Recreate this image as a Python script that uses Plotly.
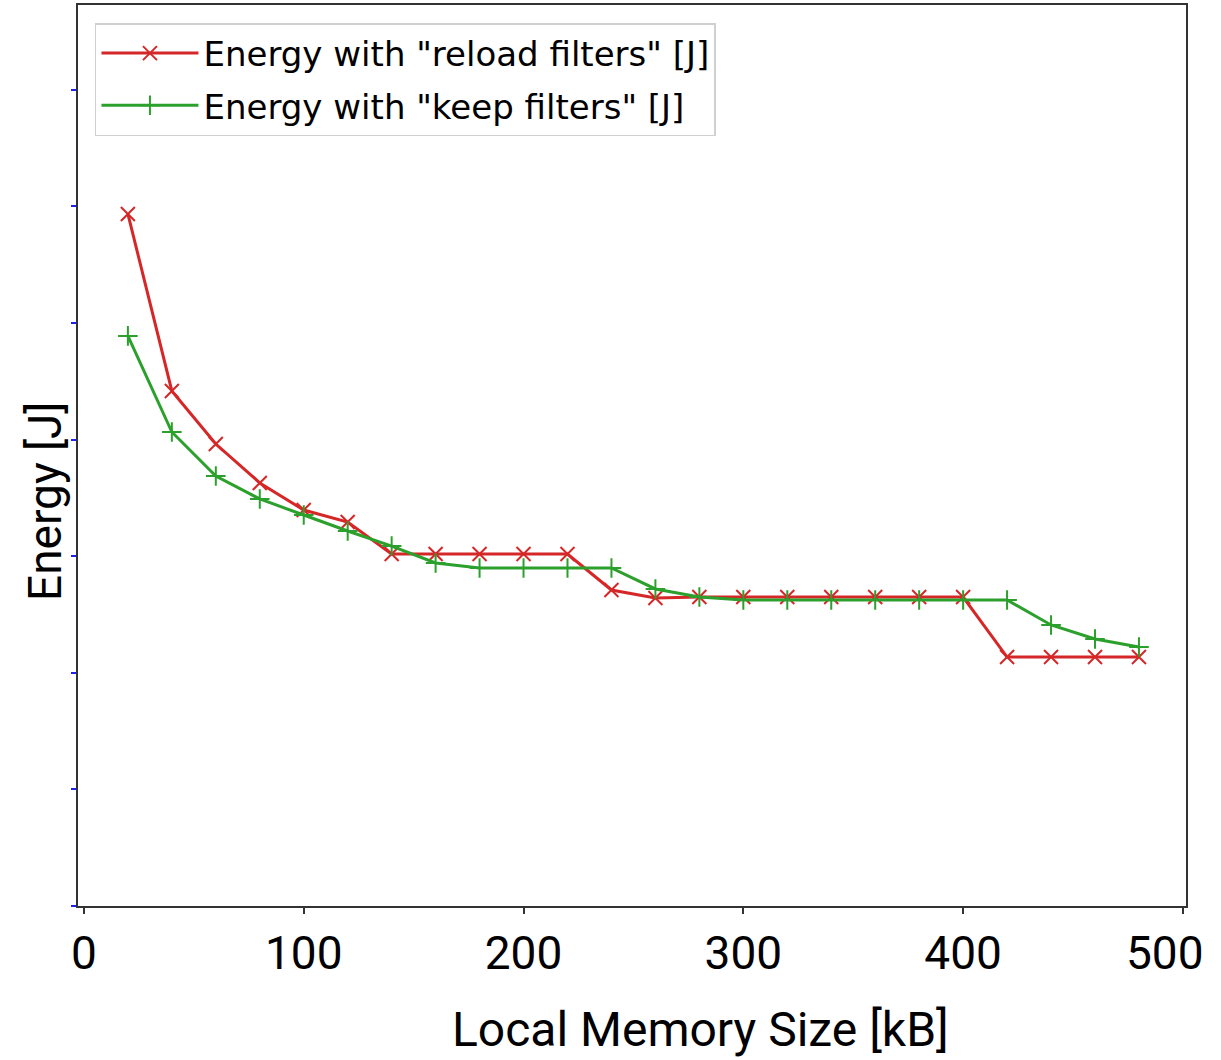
import plotly.graph_objects as go

memory_kb = [20, 40, 60, 80, 100, 120, 140, 160, 180, 200, 220, 240,
             260, 280, 300, 320, 340, 360, 380, 400, 420, 440, 460, 480]

energy_reload = [5.935, 4.417, 3.962, 3.628, 3.396, 3.293, 3.019, 3.019, 3.019, 3.019, 3.019, 2.710,
                 2.642, 2.650, 2.650, 2.650, 2.650, 2.650, 2.650, 2.650, 2.135, 2.135, 2.135, 2.135]

energy_keep = [4.889, 4.065, 3.688, 3.491, 3.353, 3.216, 3.087, 2.942, 2.899, 2.899, 2.899, 2.899,
               2.719, 2.650, 2.624, 2.624, 2.624, 2.624, 2.624, 2.624, 2.624, 2.410, 2.290, 2.221]

y_ticks = [0, 1, 2, 3, 4, 5, 6, 7]
x_ticks = [0, 100, 200, 300, 400, 500]

RED = "#d62728"
GREEN = "#2ca02c"
FONT = "Roboto, DejaVu Sans, sans-serif"
TICK_SIZE = 46

fig = go.Figure()
fig.add_trace(go.Scatter(
    x=memory_kb, y=energy_reload, mode="lines+markers",
    name='Energy with "reload filters" [J]', legendgroup="a",
    line=dict(color=RED, width=3),
    marker=dict(symbol="x-thin", size=14, line=dict(color=RED, width=2)),
))
fig.add_trace(go.Scatter(
    x=memory_kb, y=energy_keep, mode="lines+markers",
    name='Energy with "keep filters" [J]', legendgroup="b",
    line=dict(color=GREEN, width=3),
    marker=dict(symbol="cross-thin", size=14, line=dict(color=GREEN, width=2)),
))

# last tick label sits left of its tick (as in the reference), so drawn as an annotation
tick_text = [str(v) for v in x_ticks[:-1]] + [""]

fig.update_layout(
    width=1221, height=1060,
    margin=dict(l=78, r=35, t=5, b=154),
    paper_bgcolor="white", plot_bgcolor="white",
    font=dict(family=FONT, color="black"),
    showlegend=True,
    legend=dict(
        x=0.0153, y=0.98, xanchor="left", yanchor="top",
        bgcolor="rgba(255,255,255,0.9)", bordercolor="#d0d0d0", borderwidth=1.5,
        font=dict(family="DejaVu Sans", size=34, color="black"),
        tracegroupgap=5, itemwidth=97,
    ),
    annotations=[
        dict(text="Energy [J]", xref="paper", yref="paper", x=-0.0298, y=0.4495,
             xanchor="center", yanchor="middle", textangle=-90, showarrow=False,
             font=dict(family=FONT, size=46, color="black")),
        dict(text="Local Memory Size [kB]", xref="paper", yref="paper", x=0.5614, y=-0.1376,
             xanchor="center", yanchor="middle", showarrow=False,
             font=dict(family=FONT, size=48, color="black")),
        dict(text=str(x_ticks[-1]), xref="x", yref="paper", x=x_ticks[-1], y=-0.0522,
             xanchor="center", yanchor="middle", xshift=-18, showarrow=False,
             font=dict(family=FONT, size=TICK_SIZE, color="black")),
    ],
)

fig.update_xaxes(
    range=[-2.7, 501.4], tickvals=x_ticks, ticktext=tick_text,
    showgrid=False, zeroline=False, automargin=False,
    showline=True, linecolor="#333333", linewidth=2, mirror=True,
    ticks="outside", ticklen=6, tickwidth=2, tickcolor="#333333",
    tickfont=dict(size=TICK_SIZE, family=FONT),
)
fig.update_yaxes(
    range=[0, 7.727], tickvals=y_ticks, showticklabels=False,
    showgrid=False, zeroline=False, automargin=False,
    showline=True, linecolor="#333333", linewidth=2, mirror=True,
    ticks="outside", ticklen=5, tickwidth=2, tickcolor="#2222ee",
)

fig.write_html("out.html", config={"displayModeBar": False},
               post_script="document.body.style.margin='0';")
